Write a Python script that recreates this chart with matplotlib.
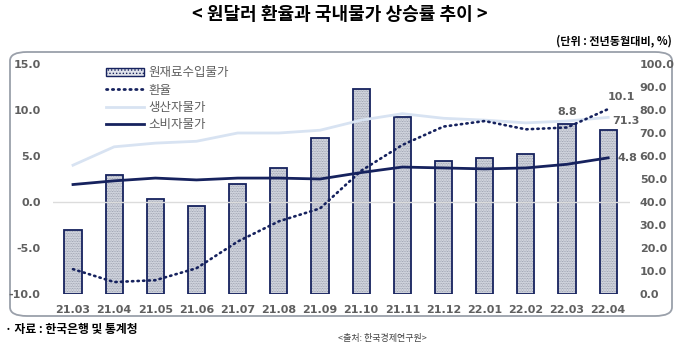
import matplotlib.pyplot as plt
from matplotlib.patches import FancyBboxPatch, Patch
from matplotlib.lines import Line2D

plt.rcParams['font.family'] = ['Noto Sans CJK KR', 'DejaVu Sans']

months = ['21.03', '21.04', '21.05', '21.06', '21.07', '21.08', '21.09',
          '21.10', '21.11', '21.12', '22.01', '22.02', '22.03', '22.04']
# 원재료수입물가 (right axis)
raw_import = [27.8, 51.6, 41.2, 38.3, 48.0, 54.8, 68.0, 89.0, 77.0, 58.0, 59.3, 60.9, 74.0, 71.3]
# 환율 (left axis)
fx = [-7.3, -8.7, -8.5, -7.2, -4.3, -2.1, -0.7, 3.4, 6.2, 8.2, 8.8, 7.9, 8.1, 10.1]
# 생산자물가
ppi = [4.0, 6.0, 6.4, 6.6, 7.5, 7.5, 7.8, 8.9, 9.6, 9.1, 8.9, 8.6, 8.8, 9.2]
# 소비자물가
cpi = [1.9, 2.3, 2.6, 2.4, 2.6, 2.6, 2.5, 3.2, 3.8, 3.7, 3.6, 3.7, 4.1, 4.8]

left_ticks = [-10, -5, 0, 5, 10, 15]
right_ticks = [0, 10, 20, 30, 40, 50, 60, 70, 80, 90, 100]

navy = '#16225e'
gray = '#5f5f5f'
dots = (0, (0.5, 1.6))

fig = plt.figure(figsize=(6.8, 3.52), dpi=100)

# rounded frame
frame = FancyBboxPatch((10 / 680, 36 / 352), 662 / 680, 264 / 352,
                       boxstyle='round,pad=0,rounding_size=0.025',
                       transform=fig.transFigure, facecolor='white',
                       edgecolor='#9aa0aa', linewidth=1.3, zorder=-5)
fig.patches.append(frame)

ax = fig.add_axes([53 / 680, 58 / 352, 577 / 680, 230 / 352])
ax2 = ax.twinx()
ax.set_zorder(ax2.get_zorder() + 1)
ax.patch.set_visible(False)
ax2.patch.set_visible(False)

x = list(range(len(months)))

# bars
plt.rcParams['hatch.color'] = '#8c92a2'
plt.rcParams['hatch.linewidth'] = 0.6
ax2.bar(x, raw_import, width=0.42, color='#dfe2ea', hatch='..........',
        edgecolor='#8c92a2', linewidth=0)
ax2.bar(x, raw_import, width=0.42, fill=False, edgecolor=navy, linewidth=1.3)
ax2.set_ylim(0, 100)
ax2.set_yticks(right_ticks)
ax2.set_yticklabels([f'{v:.1f}' for v in right_ticks])

ax.axhline(0, color='#dcdcdc', linewidth=1, zorder=0)
ax.plot(x, ppi, color='#d8e3f2', linewidth=2)
ax.plot(x, fx, color=navy, linewidth=1.9, linestyle=dots, dash_capstyle='round')
ax.plot(x, cpi, color=navy, linewidth=2)

ax.set_xlim(-0.486, 13.53)
ax.set_ylim(-10, 15)
ax.set_yticks(left_ticks)
ax.set_yticklabels([f'{v:.1f}' for v in left_ticks])
ax.set_xticks(x)
ax.set_xticklabels(months)

for a in (ax, ax2):
    for s in a.spines.values():
        s.set_visible(False)
    a.tick_params(length=0, labelsize=8, labelcolor=gray)
    for lab in a.get_xticklabels() + a.get_yticklabels():
        lab.set_fontweight('bold')
        lab.set_family('DejaVu Sans')
ax.tick_params(axis='y', pad=9)
ax.tick_params(axis='x', pad=8)
ax2.tick_params(axis='y', pad=7)

# value labels
lab_kw = dict(fontsize=8, color=gray, fontweight='bold', family='DejaVu Sans')
ax.annotate('8.8', (x[12], ppi[12]), xytext=(0, 3), textcoords='offset points',
            ha='center', va='bottom', **lab_kw)
ax.annotate('10.1', (x[13], fx[13]), xytext=(0, 5), textcoords='offset points',
            ha='left', va='bottom', **lab_kw)
ax2.annotate('71.3', (x[13], raw_import[13]), xytext=(3, 3), textcoords='offset points',
             ha='left', va='bottom', **lab_kw)
ax.annotate('4.8', (x[13], cpi[13]), xytext=(7, 0), textcoords='offset points',
            ha='left', va='center', **lab_kw)

handles = [
    Patch(facecolor='#dfe2ea', edgecolor=navy, hatch='.....', linewidth=1),
    Line2D([], [], color=navy, linewidth=2, linestyle=dots, dash_capstyle='round'),
    Line2D([], [], color='#d8e3f2', linewidth=2),
    Line2D([], [], color=navy, linewidth=2),
]
fig.legend(handles, ['원재료수입물가', '환율', '생산자물가', '소비자물가'],
           loc='upper left', bbox_to_anchor=(100 / 680, 1 - 60 / 352),
           frameon=False, fontsize=9, labelcolor=gray, handlelength=3,
           handletextpad=0.4, labelspacing=0.35, borderpad=0)

fig.text(0.5, 1 - 14 / 352, '< 원달러 환율과 국내물가 상승률 추이 >',
         ha='center', va='center', fontsize=13, fontweight='bold')
fig.text(672 / 680, 1 - 41 / 352, '(단위 : 전년동월대비, %)',
         ha='right', va='center', fontsize=8, fontweight='bold')
fig.text(5 / 680, 1 - 329 / 352, '· 자료 : 한국은행 및 통계청',
         ha='left', va='center', fontsize=8.5, fontweight='bold')
fig.text(338 / 680, 1 - 338 / 352, '<출처: 한국경제연구원>',
         ha='left', va='center', fontsize=6.5, color='#444444')

fig.savefig('out.png', dpi=100)
